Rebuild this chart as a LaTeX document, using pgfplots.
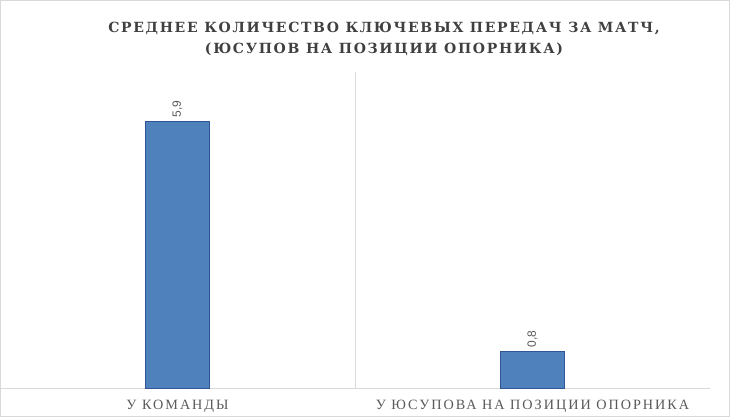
\documentclass[border=0pt]{standalone}
\usepackage{fontspec}
\setmainfont{Liberation Serif}
\newfontfamily\titlefont[LetterSpace=12]{DejaVu Serif Bold}
\newfontfamily\catfont[LetterSpace=14]{Liberation Serif}
\newfontfamily\lblfont{Liberation Sans}
\usepackage{pgfplots}
\pgfplotsset{compat=1.18}
\definecolor{barblue}{HTML}{4F81BD}
\definecolor{baredge}{HTML}{2F5597}
\definecolor{gridgray}{HTML}{D9D9D9}
\definecolor{txtgray}{HTML}{595959}
\definecolor{titlegray}{HTML}{404040}
\begin{document}
\begin{tikzpicture}
\useasboundingbox (0,0) rectangle (730pt,417pt);
\draw[gridgray] (0.5pt,0.5pt) rectangle (729.5pt,416.5pt);
\node[font=\titlefont\fontsize{14}{21}\selectfont, text=titlegray, align=center] at (384pt,378pt)
  {СРЕДНЕЕ КОЛИЧЕСТВО КЛЮЧЕВЫХ ПЕРЕДАЧ ЗА МАТЧ,\\(ЮСУПОВ НА ПОЗИЦИИ ОПОРНИКА)};
\begin{axis}[
  at={(0pt,29pt)}, anchor=south west,
  scale only axis, width=710pt, height=316pt,
  xmin=-0.5, xmax=1.5, ymin=0, ymax=7,
  hide y axis,
  axis x line*=bottom,
  x axis line style={gridgray, line width=0.8pt},
  xtick={0,1},
  xticklabels={У КОМАНДЫ, У ЮСУПОВА НА ПОЗИЦИИ ОПОРНИКА},
  xticklabel style={font=\catfont\fontsize{14.2}{16}\selectfont, text=txtgray, yshift=-9pt},
  major tick length=0pt,
  extra x ticks={0.5},
  extra x tick labels={},
  extra x tick style={grid=major, major grid style={gridgray, line width=0.8pt}},
  ybar, bar width=64pt, bar shift=0pt,
  point meta=explicit symbolic,
  nodes near coords={\pgfplotspointmeta},
  nodes near coords style={rotate=90, anchor=west, font=\lblfont\fontsize{12}{14}\selectfont, text=txtgray, inner sep=4pt},
  clip=false,
]
\addplot[fill=barblue, draw=baredge, line width=0.8pt] coordinates {(0,5.9) [5,9] (1,0.8) [0,8]};
\end{axis}
\end{tikzpicture}
\end{document}
